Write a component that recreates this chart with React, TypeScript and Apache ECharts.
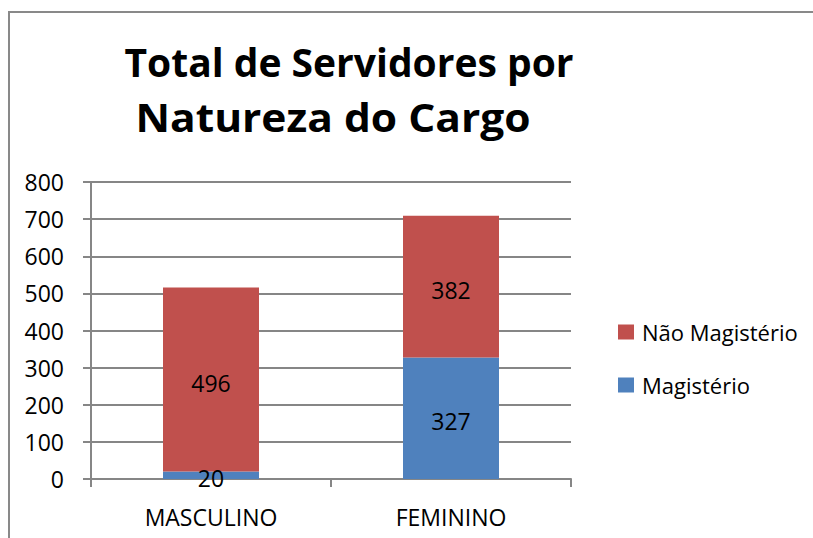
import React, { useEffect, useRef } from "react";
import * as echarts from "echarts";

const categories = ["MASCULINO", "FEMININO"];
const magisterio = [20, 327];
const naoMagisterio = [496, 382];
const titleLines = ["Total de Servidores por", "Natureza do Cargo"];
const legendOrder = ["Não Magistério", "Magistério"];

const FONT = "'Open Sans', 'Noto Sans', sans-serif";
const GRID_COLOR = "#868686";

export default function App() {
  const ref = useRef<HTMLDivElement>(null);
  useEffect(() => {
    if (!ref.current) return;
    const chart = echarts.init(ref.current, null, { renderer: "svg" });
    chart.setOption({
      animation: false,
      backgroundColor: "#ffffff",
      textStyle: { fontFamily: FONT },
      graphic: [
        {
          type: "rect",
          shape: { x: 9, y: 12, width: 900, height: 600 },
          style: { fill: "none", stroke: "#898989", lineWidth: 2 },
          silent: true,
        },
        {
          type: "text",
          x: 349,
          y: 61,
          style: {
            text: titleLines[0],
            font: `bold 39px ${FONT}`,
            fill: "#000",
            textAlign: "center",
            textVerticalAlign: "middle",
          },
        },
        {
          type: "text",
          x: 333,
          y: 117,
          scaleX: 1.09,
          style: {
            text: titleLines[1],
            font: `bold 39px ${FONT}`,
            fill: "#000",
            textAlign: "center",
            textVerticalAlign: "middle",
          },
        },
      ],
      legend: {
        orient: "vertical",
        left: 613,
        top: 316,
        data: legendOrder,
        icon: "rect",
        itemWidth: 16,
        itemHeight: 15,
        itemGap: 31,
        textStyle: { fontSize: 22, color: "#000", fontFamily: FONT, padding: [0, 0, 0, 3] },
      },
      grid: { left: 91, right: 242, top: 182, bottom: 59, containLabel: false },
      xAxis: {
        type: "category",
        data: categories,
        axisLine: { lineStyle: { color: GRID_COLOR, width: 2 } },
        axisTick: { show: true, length: 8, lineStyle: { color: GRID_COLOR, width: 2 } },
        axisLabel: { color: "#000", fontSize: 23, margin: 26, fontFamily: FONT },
      },
      yAxis: {
        type: "value",
        min: 0,
        max: 800,
        interval: 100,
        axisLine: { show: true, lineStyle: { color: GRID_COLOR, width: 2 } },
        axisTick: { show: true, length: 8, lineStyle: { color: GRID_COLOR, width: 2 } },
        axisLabel: { color: "#000", fontSize: 23, margin: 27, fontFamily: FONT },
        splitLine: { lineStyle: { color: GRID_COLOR, width: 2 } },
      },
      series: [
        {
          name: "Magistério",
          type: "bar",
          stack: "total",
          barWidth: "40%",
          data: magisterio,
          itemStyle: { color: "#4F81BD" },
          label: { show: true, position: "inside", color: "#000", fontSize: 23, fontFamily: FONT, offset: [0, 3] },
        },
        {
          name: "Não Magistério",
          type: "bar",
          stack: "total",
          barWidth: "40%",
          data: naoMagisterio,
          itemStyle: { color: "#C0504D" },
          label: { show: true, position: "inside", color: "#000", fontSize: 23, fontFamily: FONT, offset: [0, 3] },
        },
      ],
    });
    return () => chart.dispose();
  }, []);
  return <div ref={ref} style={{ width: 813, height: 538, position: "absolute", left: 0, top: 0 }} />;
}
